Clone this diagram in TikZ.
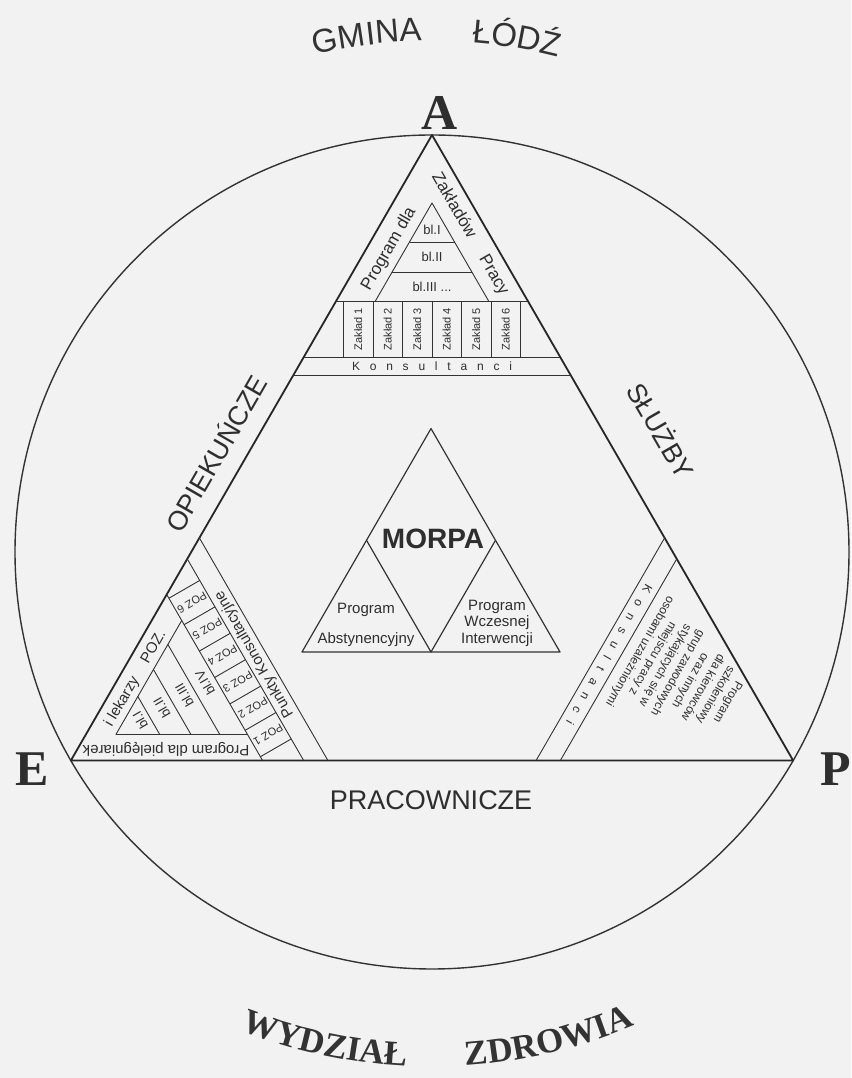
\documentclass[tikz,border=0pt]{standalone}
\usepackage{fontspec}
\setmainfont{Liberation Sans}
\newfontfamily\rmserif{Liberation Serif}
\usetikzlibrary{calc,decorations.text}
\newcommand{\fsz}[2]{\fontsize{#1}{#2}\selectfont}
\newcommand{\gminafont}{\fontsize{33}{33}\selectfont}
\newcommand{\wzfont}{\rmserif\bfseries\fontsize{35}{35}\selectfont}

\begin{document}
\begin{tikzpicture}[x=1pt, y=1pt, line join=round,
  rim/.style={line width=1.4pt, black!80},
  frame/.style={line width=1.8pt, black!85},
  rule/.style={line width=0.9pt, black!80},
  word/.style={inner sep=0pt, text=black!82},
  big/.style={word, font=\fsz{27}{30}},
  cell/.style={word, font=\fsz{11}{12}, rotate=90},
  level/.style={word, font=\fsz{13}{14}},
  strip/.style={word, font=\fsz{15}{16}},
  corner/.style={word, font=\rmserif\bfseries\fsz{50}{50}, anchor=base}]

  % page, circle and main triangle
  \fill[black!5] (0,0) rectangle (851,1078);
  \useasboundingbox (0,0) rectangle (851,1078);
  \coordinate (C) at (432,526);
  \coordinate (A) at ($(C)+(90:417)$);
  \coordinate (E) at ($(C)+(210:417)$);
  \coordinate (P) at ($(C)+(330:417)$);
  \draw[rim] (C) circle[radius=417];
  \draw[frame] (A) -- (E) -- (P) -- cycle;

  \node[corner] (lblA) at (440,948) {A};
  \node[corner] (lblE) at (32,292) {E};
  \node[corner] (lblP) at (836,292) {P};

  % curved titles
  \path[decorate, decoration={text along path, text align=center, text color=black!80,
        text={|\gminafont|GMINA}}] ($(C)+(112:511)$) arc[start angle=112, end angle=82.4, radius=511];
  \path[decorate, decoration={text along path, text align=center, text color=black!80,
        text={|\gminafont|ŁÓDŹ}}] ($(C)+(95.6:511)$) arc[start angle=95.6, end angle=65.6, radius=511];
  \path[decorate, decoration={text along path, text align=center, text color=black!80,
        text={|\wzfont|WYDZIAŁ}}] ($(C)+(242.7:515)$) arc[start angle=242.7, end angle=272.7, radius=515];
  \path[decorate, decoration={text along path, text align=center, text color=black!80,
        text={|\wzfont|ZDROWIA}}] ($(C)+(268.5:515)$) arc[start angle=268.5, end angle=298.5, radius=515];

  \node[big, rotate=60] (opiek) at (215,625) {OPIEKUŃCZE};
  \node[big, rotate=-60] (sluzby) at (662,648) {SŁUŻBY};
  \node[big] (prac) at (431,278) {PRACOWNICZE};

  % top corner: zaklady pracy
  \begin{scope}[shift={(A)}]
    \draw[rule] (-138.6,-240) -- (138.6,-240);
    \draw[rule] (-128.2,-222) -- (128.2,-222);
    \draw[rule] (-95.8,-166) -- (95.8,-166);
    \foreach \i in {0,...,6}
      \draw[rule] ({-88.5+29.5*\i},-166) -- ({-88.5+29.5*\i},-222);
    \foreach \i in {1,...,6}
      \node[cell] (zak\i) at ({-103.25+29.5*\i},-194) {Zakład \i};
    \draw[rule] (-56.6,-166) -- (0,-68) -- (56.6,-166);
    \draw[rule] (-22.5,-107) -- (22.5,-107);
    \draw[rule] (-39.8,-137) -- (39.8,-137);
    \node[level] (t1) at (0,-95) {bl.I};
    \node[level] (t2) at (0,-122) {bl.II};
    \node[level] (t3) at (0,-152) {bl.III ...};
    \node[strip, font=\fsz{17}{18}, rotate=60] (tl) at (-43,-114) {Program dla};
    \node[strip, font=\fsz{17}{18}, rotate=-60] (tr) at (38,-99) {Zakładów\hspace{1.3em}Pracy};
    \node[word, font=\fsz{12}{12}] (tk) at (0,-231) {\makebox[160pt][s]{K o n s u l t a n c i}};
  \end{scope}

  % left corner: POZ
  \begin{scope}[shift={(E)}, rotate=120, transform shape]
    \draw[rule] (-128.5,-222.6) -- (128.5,-222.6);
    \draw[rule] (-116.4,-201.6) -- (116.4,-201.6);
    \draw[rule] (-95.8,-166) -- (95.8,-166);
    \foreach \i in {0,...,6}
      \draw[rule] ({-91.5+30.5*\i},-166) -- ({-91.5+30.5*\i},-201.6);
    \foreach \i in {1,...,6}
      \node[cell] (poz\i) at ({-106.75+30.5*\i},-184) {POZ \i};
    \draw[rule] (-65.8,-166) -- (0,-52) -- (65.8,-166);
    \draw[rule] (-21.9,-90) -- (21.9,-90);
    \draw[rule] (-37.5,-117) -- (37.5,-117);
    \draw[rule] (-52,-142) -- (52,-142);
    \node[level] (l1) at (0,-80) {bl.I};
    \node[level] (l2) at (0,-105) {bl.II};
    \node[level] (l3) at (0,-131) {bl.III};
    \node[level] (l4) at (0,-155) {bl.IV};
    \node[strip, rotate=60] (ll) at (-38,-88) {Program dla pielęgniarek};
    \node[strip, rotate=-60] (lr) at (38.5,-97) {i lekarzy\hspace{1.2em}POZ.};
    \node[strip] (lk) at (0,-212) {Punkty Konsultacyjne};
  \end{scope}

  % right corner: kierowcy
  \begin{scope}[shift={(P)}, rotate=-120, transform shape]
    \draw[rule] (-128.5,-222.6) -- (128.5,-222.6);
    \draw[rule] (-116.4,-201.6) -- (116.4,-201.6);
    \node[word, font=\fsz{12}{12}] (rk) at (0,-212) {\makebox[160pt][s]{K o n s u l t a n c i}};
    \node[word, align=center, font=\fsz{12}{14.5}] (rtext) at (-18,-137)
      {Program\\szkoleniowy\\dla kierowców\\oraz innych\\grup zawodowych\\stykających się w\\miejscu pracy z\\osobami uzależnionymi};
  \end{scope}

  % MORPA in the middle
  \coordinate (M1) at (302,426);
  \coordinate (M2) at (560,426);
  \coordinate (M3) at (431,649.4);
  \draw[rule, line width=1.2pt] (M1) -- (M2) -- (M3) -- cycle;
  \draw[rule, line width=1.2pt] ($(M1)!0.5!(M3)$) -- ($(M1)!0.5!(M2)$) -- ($(M2)!0.5!(M3)$);
  \node[word, font=\bfseries\fsz{28}{28}] (morpa) at (433,539) {MORPA};
  \node[strip] (abst1) at (366,468) {Program};
  \node[strip] (abst2) at (366,438) {Abstynencyjny};
  \node[strip, align=center, font=\fsz{15}{16.5}] (wczes) at (497,455) {Program\\Wczesnej\\Interwencji};
\end{tikzpicture}
\end{document}
